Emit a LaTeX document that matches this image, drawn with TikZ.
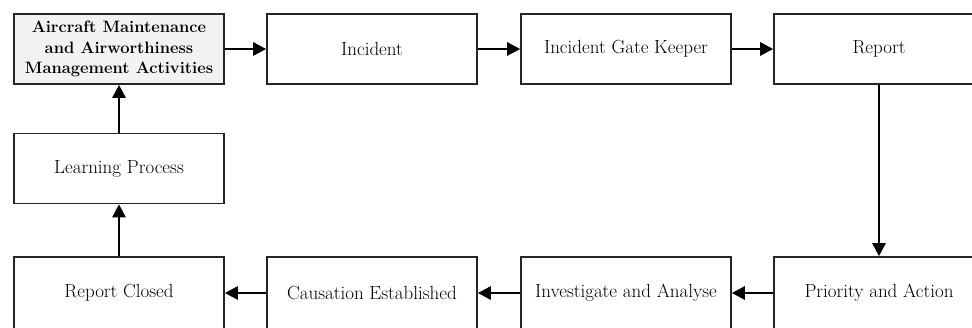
\documentclass[tikz,border=0pt]{standalone}
\usetikzlibrary{arrows.meta}
\begin{document}
\begin{tikzpicture}[x=1pt,y=-1pt,
  box/.style={draw=black!85, line width=1.6pt, minimum width=210pt, minimum height=70pt, inner sep=0pt, align=center, font=\fontsize{19}{22}\selectfont},
  lowbox/.style={box, minimum height=72pt},
  conn/.style={line width=2.6pt, -{Triangle[length=13pt,width=13pt]}}]
\useasboundingbox (0,0) rectangle (972,327);
\clip (0,0) rectangle (972,327);
\node[box, fill=black!5, font=\bfseries\fontsize{16.5}{20.5}\selectfont] (amm) at (119,49) {Aircraft Maintenance\\and Airworthiness\\Management Activities};
\node[box] (inc) at (372,49) {Incident};
\node[box] (gate) at (626,49) {Incident Gate Keeper};
\node[box] (rep) at (879,49) {Report};
\node[box] (learn) at (119,168.5) {Learning Process};
\node[lowbox] (closed) at (119,293) {Report Closed};
\node[lowbox] (cause) at (372,293) {Causation Established};
\node[lowbox] (inv) at (626,293) {Investigate and Analyse};
\node[lowbox] (prio) at (879,293) {Priority and Action};
\draw[conn] (amm) -- (inc);
\draw[conn] (inc) -- (gate);
\draw[conn] (gate) -- (rep);
\draw[conn] (rep) -- (prio);
\draw[conn] (prio) -- (inv);
\draw[conn] (inv) -- (cause);
\draw[conn] (cause) -- (closed);
\draw[conn] (closed) -- (learn);
\draw[conn] (learn) -- (amm);
\end{tikzpicture}
\end{document}
